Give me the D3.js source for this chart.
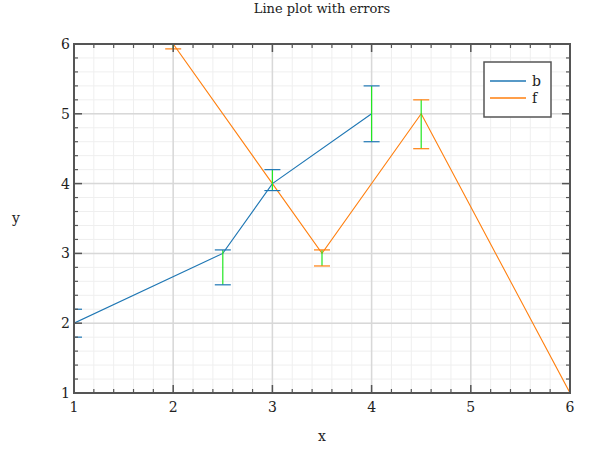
<!DOCTYPE html>
<html>
<head>
<meta charset="utf-8">
<script src="https://cdn.jsdelivr.net/npm/d3@7"></script>
<style>
body{margin:0;background:#fff;}
text{font-family:"DejaVu Serif","Liberation Serif",serif;fill:#222;}
</style>
</head>
<body>
<div id="grafico"></div>
<script>
// series b
var bX=[1,2.5,3,4];
var bY=[2,3,4,5];
var bErrLo=[0.2,0.45,0.1,0.4];
var bErrHi=[0.2,0.05,0.2,0.4];
// series f
var fX=[2,3,3.5,4.5,6];
var fY=[6,4,3,5,1];
var fErrLo=[0.07,null,0.18,0.5,0];
var fErrHi=[0.1,null,0.05,0.2,0];

var xTicks=[1,2,3,4,5,6];
var yTicks=[1,2,3,4,5,6];
var nombres=["b","f"];
var colores=["#1f77b4","#ff7f0e"];

dibujar();
function dibujar(){
	var ancho=600,alto=450;
	var margin={top:44,left:74,right:30,bottom:57};

	var svg=d3.select("#grafico").append("svg")
		.attr("width",ancho).attr("height",alto);

	var x=d3.scaleLinear().domain([1,6]).range([margin.left,ancho-margin.right]);
	var y=d3.scaleLinear().domain([1,6]).range([alto-margin.bottom,margin.top]);

	svg.append("defs").append("clipPath").attr("id","recorte")
		.append("rect")
		.attr("x",margin.left).attr("y",margin.top)
		.attr("width",x(6)-x(1)).attr("height",y(1)-y(6));

	//rejilla menor y mayor
	var menX=d3.range(1,6.001,0.2), menY=d3.range(1,6.001,0.2);
	var rejilla=svg.append("g");
	rejilla.selectAll(".gmx").data(menX).enter().append("line")
		.attr("x1",d=>x(d)).attr("x2",d=>x(d))
		.attr("y1",y(1)).attr("y2",y(6))
		.style("stroke","#efefef").style("stroke-width",1);
	rejilla.selectAll(".gmy").data(menY).enter().append("line")
		.attr("y1",d=>y(d)).attr("y2",d=>y(d))
		.attr("x1",x(1)).attr("x2",x(6))
		.style("stroke","#efefef").style("stroke-width",1);
	rejilla.selectAll(".gx").data(xTicks).enter().append("line")
		.attr("x1",d=>x(d)).attr("x2",d=>x(d))
		.attr("y1",y(1)).attr("y2",y(6))
		.style("stroke","#d8d8d8").style("stroke-width",1.5);
	rejilla.selectAll(".gy").data(yTicks).enter().append("line")
		.attr("y1",d=>y(d)).attr("y2",d=>y(d))
		.attr("x1",x(1)).attr("x2",x(6))
		.style("stroke","#d8d8d8").style("stroke-width",1.5);

	var series=[
		{nombre:nombres[0],color:colores[0],xs:bX,ys:bY,lo:bErrLo,hi:bErrHi},
		{nombre:nombres[1],color:colores[1],xs:fX,ys:fY,lo:fErrLo,hi:fErrHi}
	];

	var linea=d3.line().x(d=>x(d[0])).y(d=>y(d[1]));
	var capa=svg.append("g").attr("clip-path","url(#recorte)");

	series.forEach(function(s){
		var pts=s.xs.map((v,i)=>[v,s.ys[i]]);
		capa.append("path").datum(pts)
			.attr("d",linea)
			.style("fill","none")
			.style("stroke",s.color)
			.style("stroke-width",1.1);
	});

	series.forEach(function(s){
		var errs=s.xs.map((v,i)=>({x:v,y:s.ys[i],lo:s.lo[i],hi:s.hi[i]}))
			.filter(d=>d.lo!==null);
		var g=capa.append("g");
		g.selectAll(".barra").data(errs).enter().append("line")
			.attr("x1",d=>x(d.x)).attr("x2",d=>x(d.x))
			.attr("y1",d=>y(d.y-d.lo)).attr("y2",d=>y(d.y+d.hi))
			.style("stroke","#22e622").style("stroke-width",1.2);
		g.selectAll(".capa").data(errs).enter().append("line")
			.attr("x1",d=>x(d.x)-8).attr("x2",d=>x(d.x)+8)
			.attr("y1",d=>y(d.y+d.hi)).attr("y2",d=>y(d.y+d.hi))
			.style("stroke",s.color).style("stroke-width",1.2);
		g.selectAll(".capb").data(errs).enter().append("line")
			.attr("x1",d=>x(d.x)-8).attr("x2",d=>x(d.x)+8)
			.attr("y1",d=>y(d.y-d.lo)).attr("y2",d=>y(d.y-d.lo))
			.style("stroke",s.color).style("stroke-width",1.2);
	});

	//marcas de ejes, hacia adentro en los cuatro lados
	var marcas=svg.append("g").style("stroke","#555");
	var menores=d3.range(1,6.001,0.2).filter(d=>Math.abs(d-Math.round(d))>0.01);
	[[y(1),-1],[y(6),1]].forEach(function(p){
		marcas.selectAll(null).data(menores).enter().append("line")
			.attr("x1",d=>x(d)).attr("x2",d=>x(d))
			.attr("y1",p[0]).attr("y2",p[0]+p[1]*4)
			.style("stroke-width",1.2);
		marcas.selectAll(null).data(xTicks).enter().append("line")
			.attr("x1",d=>x(d)).attr("x2",d=>x(d))
			.attr("y1",p[0]).attr("y2",p[0]+p[1]*8)
			.style("stroke-width",1.5);
	});
	[[x(1),1],[x(6),-1]].forEach(function(p){
		marcas.selectAll(null).data(menores).enter().append("line")
			.attr("y1",d=>y(d)).attr("y2",d=>y(d))
			.attr("x1",p[0]).attr("x2",p[0]+p[1]*4)
			.style("stroke-width",1.2);
		marcas.selectAll(null).data(yTicks).enter().append("line")
			.attr("y1",d=>y(d)).attr("y2",d=>y(d))
			.attr("x1",p[0]).attr("x2",p[0]+p[1]*8)
			.style("stroke-width",1.5);
	});

	svg.append("rect")
		.attr("x",x(1)).attr("y",y(6))
		.attr("width",x(6)-x(1)).attr("height",y(1)-y(6))
		.style("fill","none").style("stroke","#555").style("stroke-width",2);

	//etiquetas
	svg.selectAll(".tx").data(xTicks).enter().append("text")
		.attr("x",d=>x(d)).attr("y",y(1)+19)
		.style("text-anchor","middle").style("font-size","14px")
		.text(d=>d);
	svg.selectAll(".ty").data(yTicks).enter().append("text")
		.attr("x",x(1)-4).attr("y",d=>y(d)+5)
		.style("text-anchor","end").style("font-size","14px")
		.text(d=>d);

	svg.append("text").attr("x",(x(1)+x(6))/2).attr("y",13)
		.style("text-anchor","middle").style("font-size","13px")
		.text("Line plot with errors");
	svg.append("text").attr("x",(x(1)+x(6))/2).attr("y",441)
		.style("text-anchor","middle").style("font-size","14px")
		.text("x");
	svg.append("text").attr("x",16).attr("y",(y(1)+y(6))/2+4)
		.style("text-anchor","middle").style("font-size","14px")
		.text("y");

	//leyenda
	var ley=svg.append("g").attr("transform","translate(484,62)");
	ley.append("rect").attr("width",67).attr("height",55)
		.style("fill","#fff").style("stroke","#555").style("stroke-width",1.5);
	series.forEach(function(s,i){
		ley.append("line").attr("x1",6).attr("x2",42)
			.attr("y1",19+i*17).attr("y2",19+i*17)
			.style("stroke",s.color).style("stroke-width",1.3);
		ley.append("text").attr("x",48).attr("y",24+i*17)
			.style("font-size","14px").text(s.nombre);
	});
}
</script>
</body>
</html>
